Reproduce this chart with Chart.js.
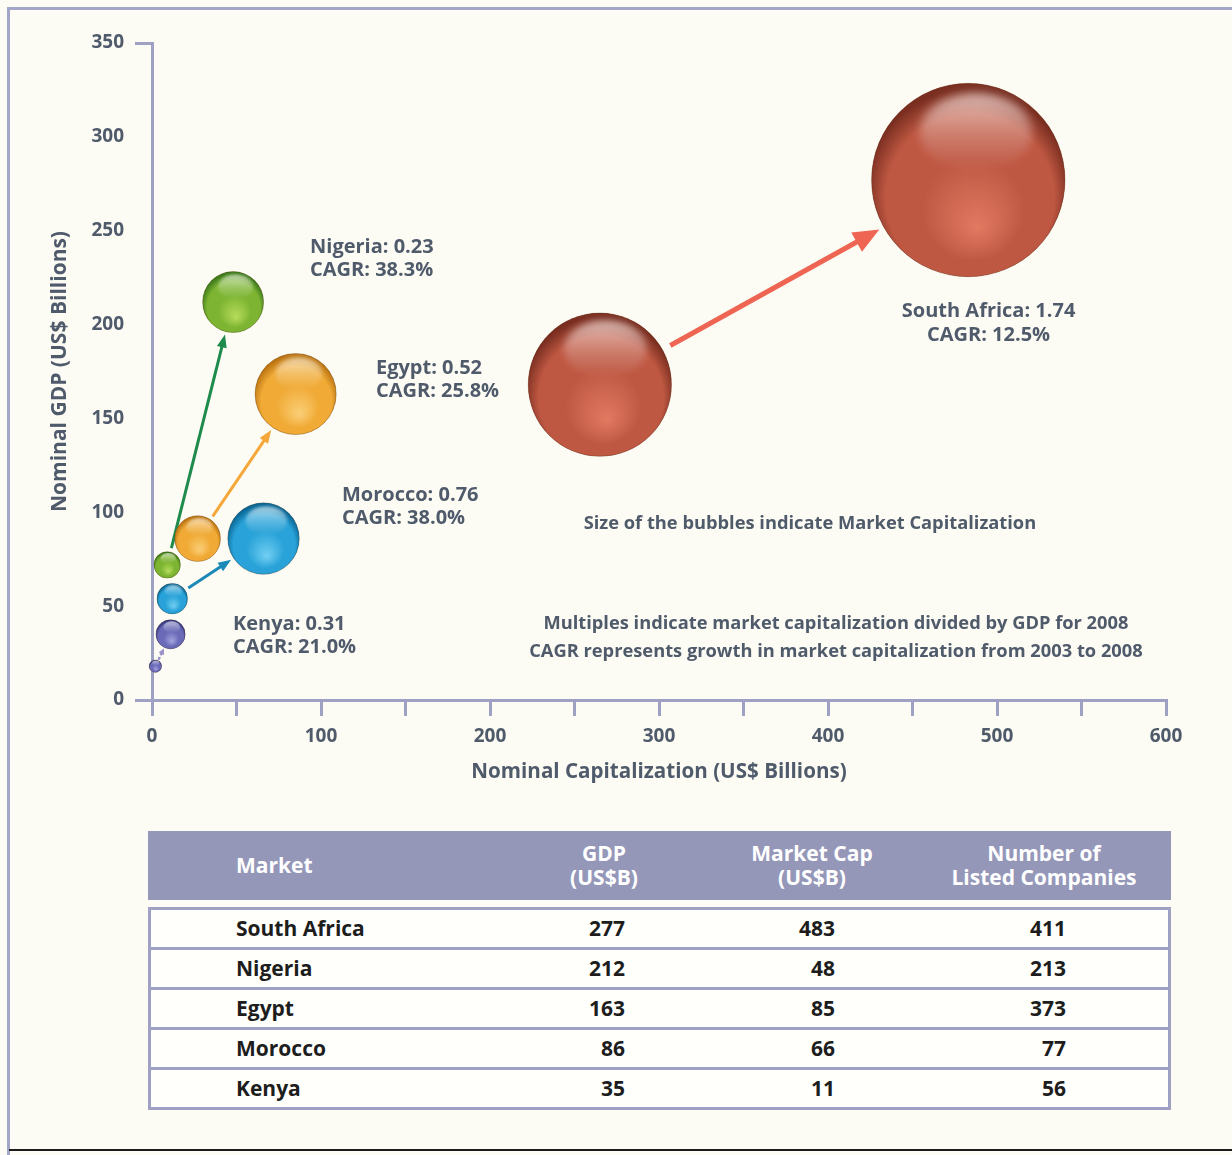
<!DOCTYPE html>
<html>
<head>
<meta charset="utf-8">
<script src="https://cdn.jsdelivr.net/npm/chart.js@4"></script>
<style>
  html, body { margin: 0; padding: 0; background: #fdfcf4; }
  body { width: 1232px; height: 1155px; position: relative; overflow: hidden; font-family: "Open Sans", sans-serif; }
  .frame { position: absolute; left: 7px; top: 7px; right: -10px; bottom: -10px; border-left: 3px solid #a3a6c8; border-top: 3px solid #a3a6c8; }
  .baseline { position: absolute; left: 9px; right: 0; top: 1149px; height: 2px; background: #1c1c1c; }
  #chartBox { position: absolute; left: 0; top: 0; width: 1232px; height: 800px; }
  .thead { position: absolute; left: 148px; top: 831px; width: 1023px; height: 69px; background: #9597b9; color: #fff; font-weight: 700; font-size: 21px; }
  .thead div { position: absolute; line-height: 24px; text-align: center; }
  .tbody { position: absolute; left: 148px; top: 907px; width: 1023px; height: 203px; box-sizing: border-box; border: 3px solid #9ea1c4; background: #fffffb; }
  .row { position: relative; height: 37px; font-weight: 700; font-size: 21px; color: #1d1d1d; line-height: 37px; }
  .row + .row { height: 40px; border-top: 3px solid #9ea1c4; box-sizing: border-box; }
  .row span { position: absolute; top: 0; }
</style>
</head>
<body>
<div class="frame"></div>
<div class="baseline"></div>
<div id="chartBox"><canvas id="bubbles" width="1232" height="800"></canvas></div>
<div class="thead" id="thead"></div>
<div class="tbody" id="tbody"></div>
<script>
// 2008 figures (table + large bubbles)
const markets = ["South Africa", "Nigeria", "Egypt", "Morocco", "Kenya"];
const gdp2008 = [277, 212, 163, 86, 35];
const cap2008 = [483, 48, 85, 66, 11];
const listedCompanies = [411, 213, 373, 77, 56];
// 2003 starting points (small bubbles)
const gdp2003 = [168, 72, 86, 54, 18];
const cap2003 = [265, 9, 27, 12, 2];
// label text
const multiples = ["1.74", "0.23", "0.52", "0.76", "0.31"];
const cagr = ["12.5%", "38.3%", "25.8%", "38.0%", "21.0%"];
// axes
const capRange = [0, 600];
const gdpRange = [0, 350];

const textColor = "#4f5a6b";
const axisColor = "#9ea1c4";
const font = "'Open Sans', sans-serif";

// shading per market: light / mid / dark, plus arrow colour
const palette = {
  "South Africa": { light: "#e27a62", mid: "#bf5843", dark: "#7a2e20", arrow: "#ee6553" },
  "Nigeria": { light: "#b8dc5c", mid: "#7db532", dark: "#3d7a1a", arrow: "#1e8a4c" },
  "Egypt": { light: "#fbcf78", mid: "#f0aa35", dark: "#bd7612", arrow: "#f5a73a" },
  "Morocco": { light: "#72cff2", mid: "#28a2d8", dark: "#0b6896", arrow: "#1b89b7" },
  "Kenya": { light: "#a4a4de", mid: "#6a6ab8", dark: "#363880", arrow: "#9a90cc" }
};

// where each market's caption sits (data units of the two axes)
const captionAt = {
  "South Africa": { x: 495, y: 207, align: "center" },
  "Nigeria": { x: 93.5, y: 241.3, align: "left" },
  "Egypt": { x: 132.5, y: 176.9, align: "left" },
  "Morocco": { x: 112.4, y: 109.2, align: "left" },
  "Kenya": { x: 47.9, y: 40.5, align: "left" }
};

// bubble area follows market capitalisation
const bubbleRadius = cap => 4.4 * Math.sqrt(cap);

// bubbles may overhang the axes; don't let the largest radius push the plot area in
Chart.registry.getController("bubble").prototype.getMaxOverflow = function () { return 0; };

const datasets = markets.map((m, i) => ({
  label: m,
  data: [
    { x: cap2003[i], y: gdp2003[i], r: bubbleRadius(cap2003[i]) },
    { x: cap2008[i], y: gdp2008[i], r: bubbleRadius(cap2008[i]) }
  ],
  backgroundColor: palette[m].mid,
  borderWidth: 0,
  clip: false
}));

function drawSphere(ctx, x, y, r, c) {
  ctx.save();
  ctx.beginPath();
  ctx.arc(x, y, r, 0, Math.PI * 2);
  ctx.clip();
  const g = ctx.createRadialGradient(x + r * 0.1, y + r * 0.5, 0, x, y + r * 0.12, r * 1.06);
  g.addColorStop(0, c.light);
  g.addColorStop(0.5, c.mid);
  g.addColorStop(0.82, c.mid);
  g.addColorStop(1, c.dark);
  ctx.fillStyle = g;
  ctx.fillRect(x - r, y - r, r * 2, r * 2);
  // soft top gloss
  ctx.filter = "blur(" + Math.max(0.6, r * 0.05).toFixed(1) + "px)";
  ctx.beginPath();
  ctx.ellipse(x + r * 0.08, y - r * 0.5, r * 0.58, r * 0.4, 0, 0, Math.PI * 2);
  const hg = ctx.createLinearGradient(0, y - r * 0.9, 0, y - r * 0.1);
  hg.addColorStop(0, "rgba(255,255,255,0.6)");
  hg.addColorStop(0.55, "rgba(255,255,255,0.22)");
  hg.addColorStop(1, "rgba(255,255,255,0)");
  ctx.fillStyle = hg;
  ctx.fill();
  ctx.filter = "none";
  ctx.restore();
  ctx.beginPath();
  ctx.arc(x, y, r, 0, Math.PI * 2);
  ctx.strokeStyle = "rgba(70,40,20,0.3)";
  ctx.lineWidth = 1;
  ctx.stroke();
}

// arrow from the 2003 bubble to the 2008 bubble, stopping short of both edges
function drawArrow(ctx, a, b, color, style) {
  const dx = b.x - a.x, dy = b.y - a.y;
  const len = Math.hypot(dx, dy);
  const ux = dx / len, uy = dy / len;
  const r0 = a.options.radius + style.gapStart, r1 = b.options.radius + style.gapEnd;
  const sx = a.x + ux * r0, sy = a.y + uy * r0;
  const tx = b.x - ux * r1, ty = b.y - uy * r1;
  ctx.save();
  ctx.strokeStyle = color;
  ctx.fillStyle = color;
  ctx.lineWidth = style.width;
  if (style.dash) ctx.setLineDash(style.dash);
  ctx.beginPath();
  ctx.moveTo(sx, sy);
  ctx.lineTo(tx - ux * style.headL * 0.7, ty - uy * style.headL * 0.7);
  ctx.stroke();
  ctx.setLineDash([]);
  const bx = tx - ux * style.headL, by = ty - uy * style.headL;
  ctx.beginPath();
  ctx.moveTo(tx, ty);
  ctx.lineTo(bx - uy * style.headW / 2, by + ux * style.headW / 2);
  ctx.lineTo(bx + uy * style.headW / 2, by - ux * style.headW / 2);
  ctx.closePath();
  ctx.fill();
  ctx.restore();
}

const arrowStyles = {
  "South Africa": { width: 5, headL: 26, headW: 22, gapStart: 9, gapEnd: 5 },
  "Kenya": { width: 2.5, headL: 6, headW: 6, gapStart: 1, gapEnd: 1, dash: [3, 2] },
  other: { width: 3, headL: 13, headW: 10, gapStart: 4, gapEnd: 3 }
};

const arrowsPlugin = {
  id: "arrows",
  beforeDatasetsDraw(chart) {
    const ctx = chart.ctx;
    chart.data.datasets.forEach((ds, i) => {
      const pts = chart.getDatasetMeta(i).data;
      drawArrow(ctx, pts[0], pts[1], palette[ds.label].arrow, arrowStyles[ds.label] || arrowStyles.other);
    });
  }
};

const glossPlugin = {
  id: "gloss",
  afterDatasetsDraw(chart) {
    const ctx = chart.ctx;
    for (let i = chart.data.datasets.length - 1; i >= 0; i--) {
      const ds = chart.data.datasets[i];
      chart.getDatasetMeta(i).data.forEach(el => {
        drawSphere(ctx, el.x, el.y, el.options.radius, palette[ds.label]);
      });
    }
  }
};

const captionsPlugin = {
  id: "captions",
  afterDraw(chart) {
    const ctx = chart.ctx;
    const sx = chart.scales.x, sy = chart.scales.y;
    ctx.save();
    ctx.fillStyle = textColor;
    ctx.textBaseline = "middle";
    ctx.font = "bold 20px " + font;
    markets.forEach((m, i) => {
      const at = captionAt[m];
      const px = sx.getPixelForValue(at.x), py = sy.getPixelForValue(at.y);
      ctx.textAlign = at.align;
      ctx.fillText(m + ": " + multiples[i], px, py);
      ctx.fillText("CAGR: " + cagr[i], px, py + 23.5);
    });
    ctx.font = "bold 18.3px " + font;
    ctx.textAlign = "center";
    ctx.fillText("Size of the bubbles indicate Market Capitalization", sx.getPixelForValue(389.3), sy.getPixelForValue(93.8));
    const nx = sx.getPixelForValue(404.7), ny = sy.getPixelForValue(40.5);
    ctx.fillText("Multiples indicate market capitalization divided by GDP for 2008", nx, ny);
    ctx.fillText("CAGR represents growth in market capitalization from 2003 to 2008", nx, ny + 28);
    ctx.restore();
  }
};

new Chart(document.getElementById("bubbles"), {
  type: "bubble",
  data: { datasets },
  options: {
    responsive: false,
    devicePixelRatio: 1,
    animation: false,
    layout: { padding: { top: 43, right: 66, bottom: 0, left: 0 } },
    plugins: { legend: { display: false }, tooltip: { enabled: false } },
    scales: {
      x: {
        type: "linear",
        min: capRange[0],
        max: capRange[1],
        afterFit: s => { s.height = 100; },
        ticks: {
          stepSize: 50,
          padding: 9,
          color: textColor,
          font: { family: font, size: 19, weight: "bold" },
          callback: v => (v % 100 === 0 ? v : "")
        },
        grid: { drawOnChartArea: false, tickLength: 16, lineWidth: 3, color: axisColor },
        border: { color: axisColor, width: 3 },
        title: {
          display: true,
          text: "Nominal Capitalization (US$ Billions)",
          color: textColor,
          font: { family: font, size: 20.6, weight: "bold" },
          padding: { top: 0, bottom: 16 }
        }
      },
      y: {
        type: "linear",
        min: gdpRange[0],
        max: gdpRange[1],
        afterFit: s => { s.width = 152; },
        ticks: {
          stepSize: 50,
          padding: 11,
          color: textColor,
          font: { family: font, size: 19, weight: "bold" }
        },
        grid: {
          drawOnChartArea: false,
          tickLength: 17,
          lineWidth: 3,
          color: c => (c.tick && (c.tick.value === gdpRange[0] || c.tick.value === gdpRange[1]) ? axisColor : "rgba(0,0,0,0)")
        },
        border: { color: axisColor, width: 3 },
        title: {
          display: true,
          text: "Nominal GDP (US$ Billions)",
          color: textColor,
          font: { family: font, size: 21, weight: "bold" },
          padding: { top: 47, bottom: 0 }
        }
      }
    }
  },
  plugins: [arrowsPlugin, glossPlugin, captionsPlugin]
});

// summary table
const thead = document.getElementById("thead");
const heads = [
  { html: "Market", left: 88, top: 22, align: "left" },
  { html: "GDP<br>(US$B)", center: 456, top: 10 },
  { html: "Market Cap<br>(US$B)", center: 664, top: 10 },
  { html: "Number of<br>Listed Companies", center: 896, top: 10 }
];
heads.forEach(h => {
  const d = document.createElement("div");
  d.innerHTML = h.html;
  d.style.top = h.top + "px";
  if (h.align === "left") {
    d.style.left = h.left + "px";
  } else {
    d.style.left = (h.center - 150) + "px";
    d.style.width = "300px";
  }
  thead.appendChild(d);
});

const tbody = document.getElementById("tbody");
markets.forEach((m, i) => {
  const row = document.createElement("div");
  row.className = "row";
  const cells = [
    { text: m, left: 85 },
    { text: gdp2008[i], right: 543 },
    { text: cap2008[i], right: 333 },
    { text: listedCompanies[i], right: 102 }
  ];
  cells.forEach(c => {
    const s = document.createElement("span");
    s.textContent = c.text;
    if (c.left !== undefined) s.style.left = c.left + "px";
    else s.style.right = c.right + "px";
    row.appendChild(s);
  });
  tbody.appendChild(row);
});
</script>
</body>
</html>
